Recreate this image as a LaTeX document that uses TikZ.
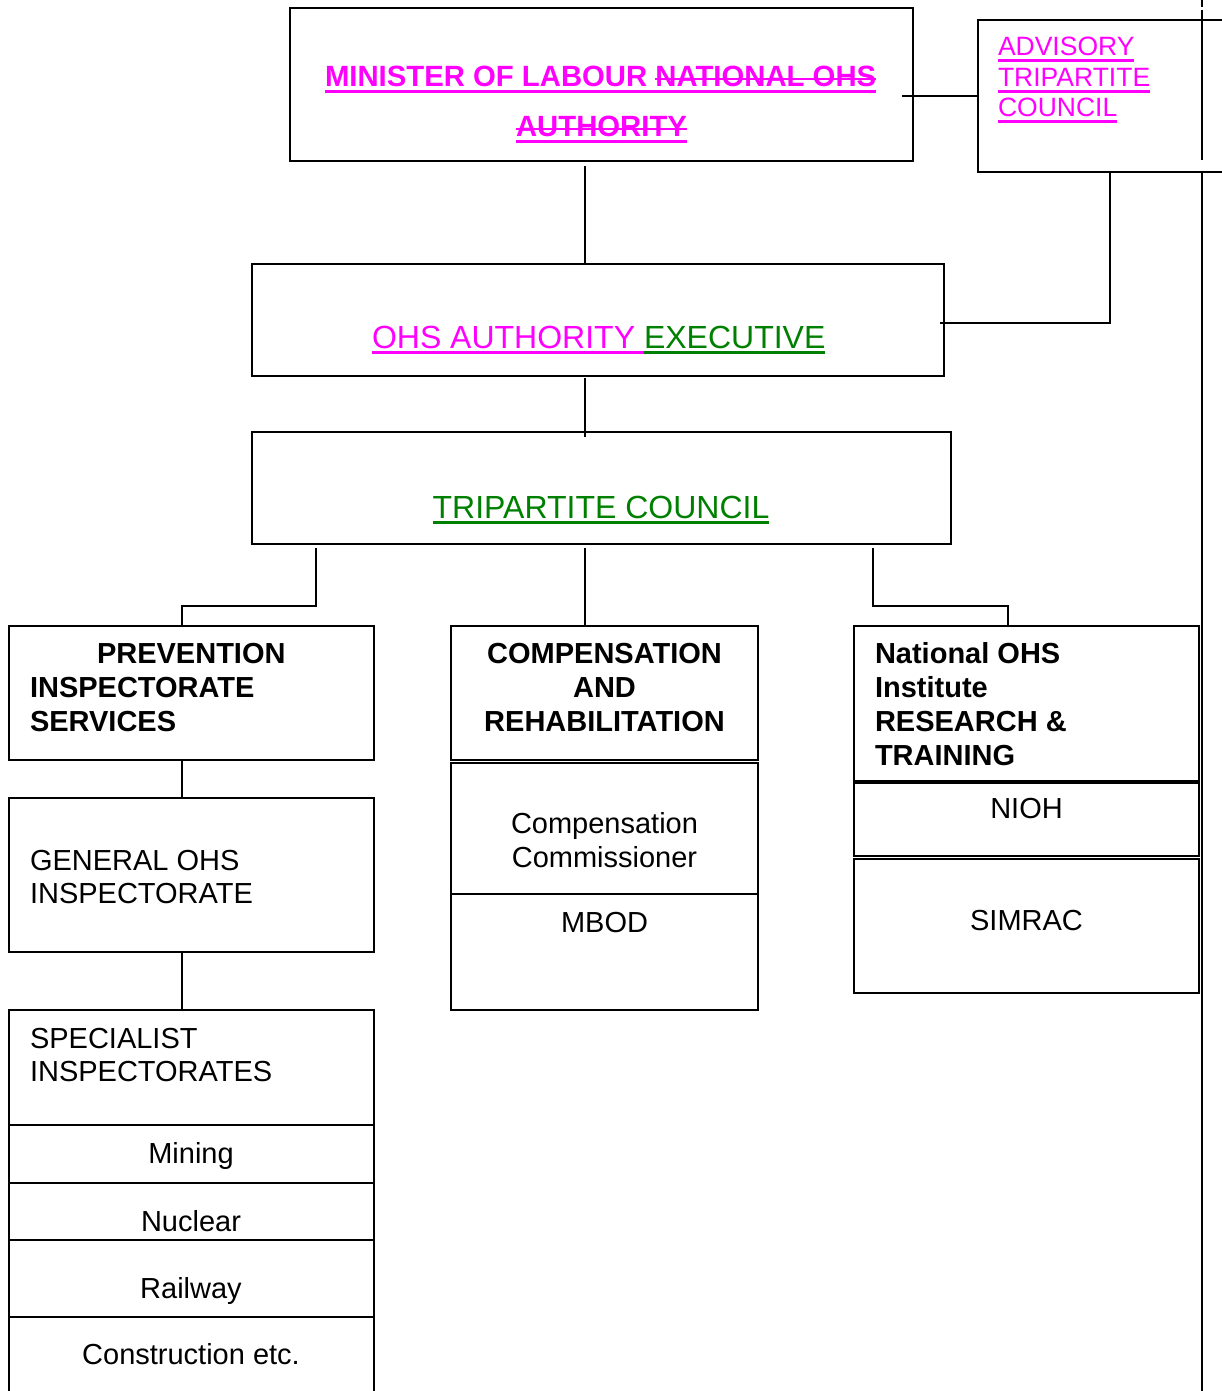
\documentclass[tikz,border=0pt]{standalone}
\usepackage{fontspec}
\setmainfont{Liberation Sans}
\definecolor{mag}{RGB}{255,0,255}
\definecolor{grn}{RGB}{0,128,0}
\newcommand\bx[5]{\node[box, minimum width={#4-#2}, minimum height={#5-#3}] (#1) at (#2,#3) {};}
\newcommand\ul[2]{\draw[#1, line width=2.8pt] ([yshift=-4.4pt]#2.base west) -- ([yshift=-4.4pt]#2.base east);}
\newcommand\ulx[3]{\draw[#1, line width=2.8pt] ([yshift=-4.4pt]#2.base west) -- ([yshift=-4.4pt]#3.base east);}
\newcommand\st[2]{\draw[#1, line width=1.4pt] ([yshift=8pt]#2.base west) -- ([yshift=8pt]#2.base east);}
\begin{document}
\begin{tikzpicture}[x=1pt,y=-1pt,
  box/.style={draw, line width=1.8pt, inner sep=0pt, outer sep=0pt, anchor=north west},
  conn/.style={line width=1.5pt},
  t/.style={anchor=base, inner sep=0pt, outer sep=0pt, font=\fontsize{29}{33}\selectfont},
  tw/.style={t, anchor=base west},
  bold/.style={font=\fontsize{29}{33}\selectfont\bfseries},
  big/.style={font=\fontsize{32}{36}\selectfont},
  minfont/.style={font=\fontsize{29.3}{33}\selectfont\bfseries, text=mag},
  advfont/.style={font=\fontsize{26.5}{30}\selectfont, text=mag},
]
\useasboundingbox (0,0) rectangle (1222,1391);
\clip (0,0) rectangle (1222,1391);

% boxes
\bx{min}{290}{8}{913}{161}
\bx{adv}{978}{20}{1250}{172}
\bx{exe}{252}{264}{944}{376}
\bx{tri}{252}{432}{951}{544}
\bx{prev}{9}{626}{374}{760}
\bx{gen}{9}{798}{374}{952}
\bx{spec}{9}{1010}{374}{1125}
\bx{mine}{9}{1125}{374}{1183}
\bx{nuc}{9}{1183}{374}{1240}
\bx{rail}{9}{1240}{374}{1317}
\bx{cons}{9}{1317}{374}{1400}
\bx{comp}{451}{626}{758}{760}
\bx{commr}{451}{763}{758}{894}
\bx{mbod}{451}{894}{758}{1010}
\bx{nat}{854}{626}{1199}{781}
\bx{nioh}{854}{783}{1199}{856}
\bx{simrac}{854}{859}{1199}{993}

% page rule on the right
\draw[line width=2.6pt] (1202,0) -- (1202,7) (1202,10) -- (1202,160) (1202,173) -- (1202,1391);

% column coordinates
\coordinate (xL) at (182,0);
\coordinate (xT) at (316,0);
\coordinate (xM) at (585,0);
\coordinate (xR) at (873,0);
\coordinate (xN) at (1008,0);
\coordinate (xA) at (1110,0);
\coordinate (minR) at (902,96);
\coordinate (exeR) at (940,323);

% connectors
\draw[conn] (minR) -- (adv.west);
\draw[conn] ([yshift=-5pt]xM |- min.south) -- (xM |- exe.north);
\draw[conn] (xA |- adv.south) |- (exeR);
\draw[conn] ([yshift=-2pt]xM |- exe.south) -- ([yshift=-5pt]xM |- tri.north);
\draw[conn] ([yshift=-4pt]xT |- tri.south) -- ++(0,58) -| (xL |- prev.north);
\draw[conn] ([yshift=-4pt]xM |- tri.south) -- (xM |- comp.north);
\draw[conn] ([yshift=-4pt]xR |- tri.south) -- ++(0,58) -| (xN |- nat.north);
\draw[conn] (xL |- prev.south) -- (xL |- gen.north);
\draw[conn] (xL |- gen.south) -- (xL |- spec.north);

% texts
\node[tw, minfont] (m1a) at (325,87) {MINISTER OF LABOUR\ \kern0pt};
\node[tw, minfont] (m1b) at (m1a.base east) {NATIONAL OHS};
\node[t, minfont] (m2) at (601.5,137) {AUTHORITY};
\ulx{mag}{m1a}{m1b}
\ul{mag}{m2}
\st{mag}{m1b}
\st{mag}{m2}

\node[tw, advfont] (a1) at (998,56) {ADVISORY};
\node[tw, advfont] (a2) at (998,87) {TRIPARTITE};
\node[tw, advfont] (a3) at (998,117) {COUNCIL};
\ul{mag}{a1}
\ul{mag}{a2}
\ul{mag}{a3}

\node[tw, big, text=mag] (e1) at (372,348) {OHS AUTHORITY\ \kern0pt};
\node[tw, big, text=grn] (e2) at (e1.base east) {EXECUTIVE};
\ul{mag}{e1}
\ul{grn}{e2}
\node[t, big, text=grn] (triT) at (601,518) {TRIPARTITE COUNCIL};
\ul{grn}{triT}

\node[tw, bold] (p1) at (97,663) {PREVENTION};
\node[tw, bold] (p2) at (30,697) {INSPECTORATE};
\node[tw, bold] (p3) at (30,731) {SERVICES};

\node[tw] (g1) at (30,870) {GENERAL OHS};
\node[tw] (g2) at (30,903) {INSPECTORATE};

\node[tw] (s1) at (30,1048) {SPECIALIST};
\node[tw] (s2) at (30,1081) {INSPECTORATES};
\node[t] (mineT) at (191,1163) {Mining};
\node[t] (nucT) at (191,1231) {Nuclear};
\node[t] (railT) at (191,1298) {Railway};
\node[t] (consT) at (191,1364) {Construction etc.};

\node[t, bold] (c1) at (604.5,663) {COMPENSATION};
\node[t, bold] (c2) at (604.5,697) {AND};
\node[t, bold] (c3) at (604.5,731) {REHABILITATION};
\node[t] (cc1) at (604.5,833) {Compensation};
\node[t] (cc2) at (604.5,867) {Commissioner};
\node[t] (mbodT) at (604.5,932) {MBOD};

\node[tw, bold] (n1) at (875,663) {National OHS};
\node[tw, bold] (n2) at (875,697) {Institute};
\node[tw, bold] (n3) at (875,731) {RESEARCH \&};
\node[tw, bold] (n4) at (875,765) {TRAINING};
\node[t] (niohT) at (1026.5,818) {NIOH};
\node[t] (simracT) at (1026.5,930) {SIMRAC};
\end{tikzpicture}
\end{document}
